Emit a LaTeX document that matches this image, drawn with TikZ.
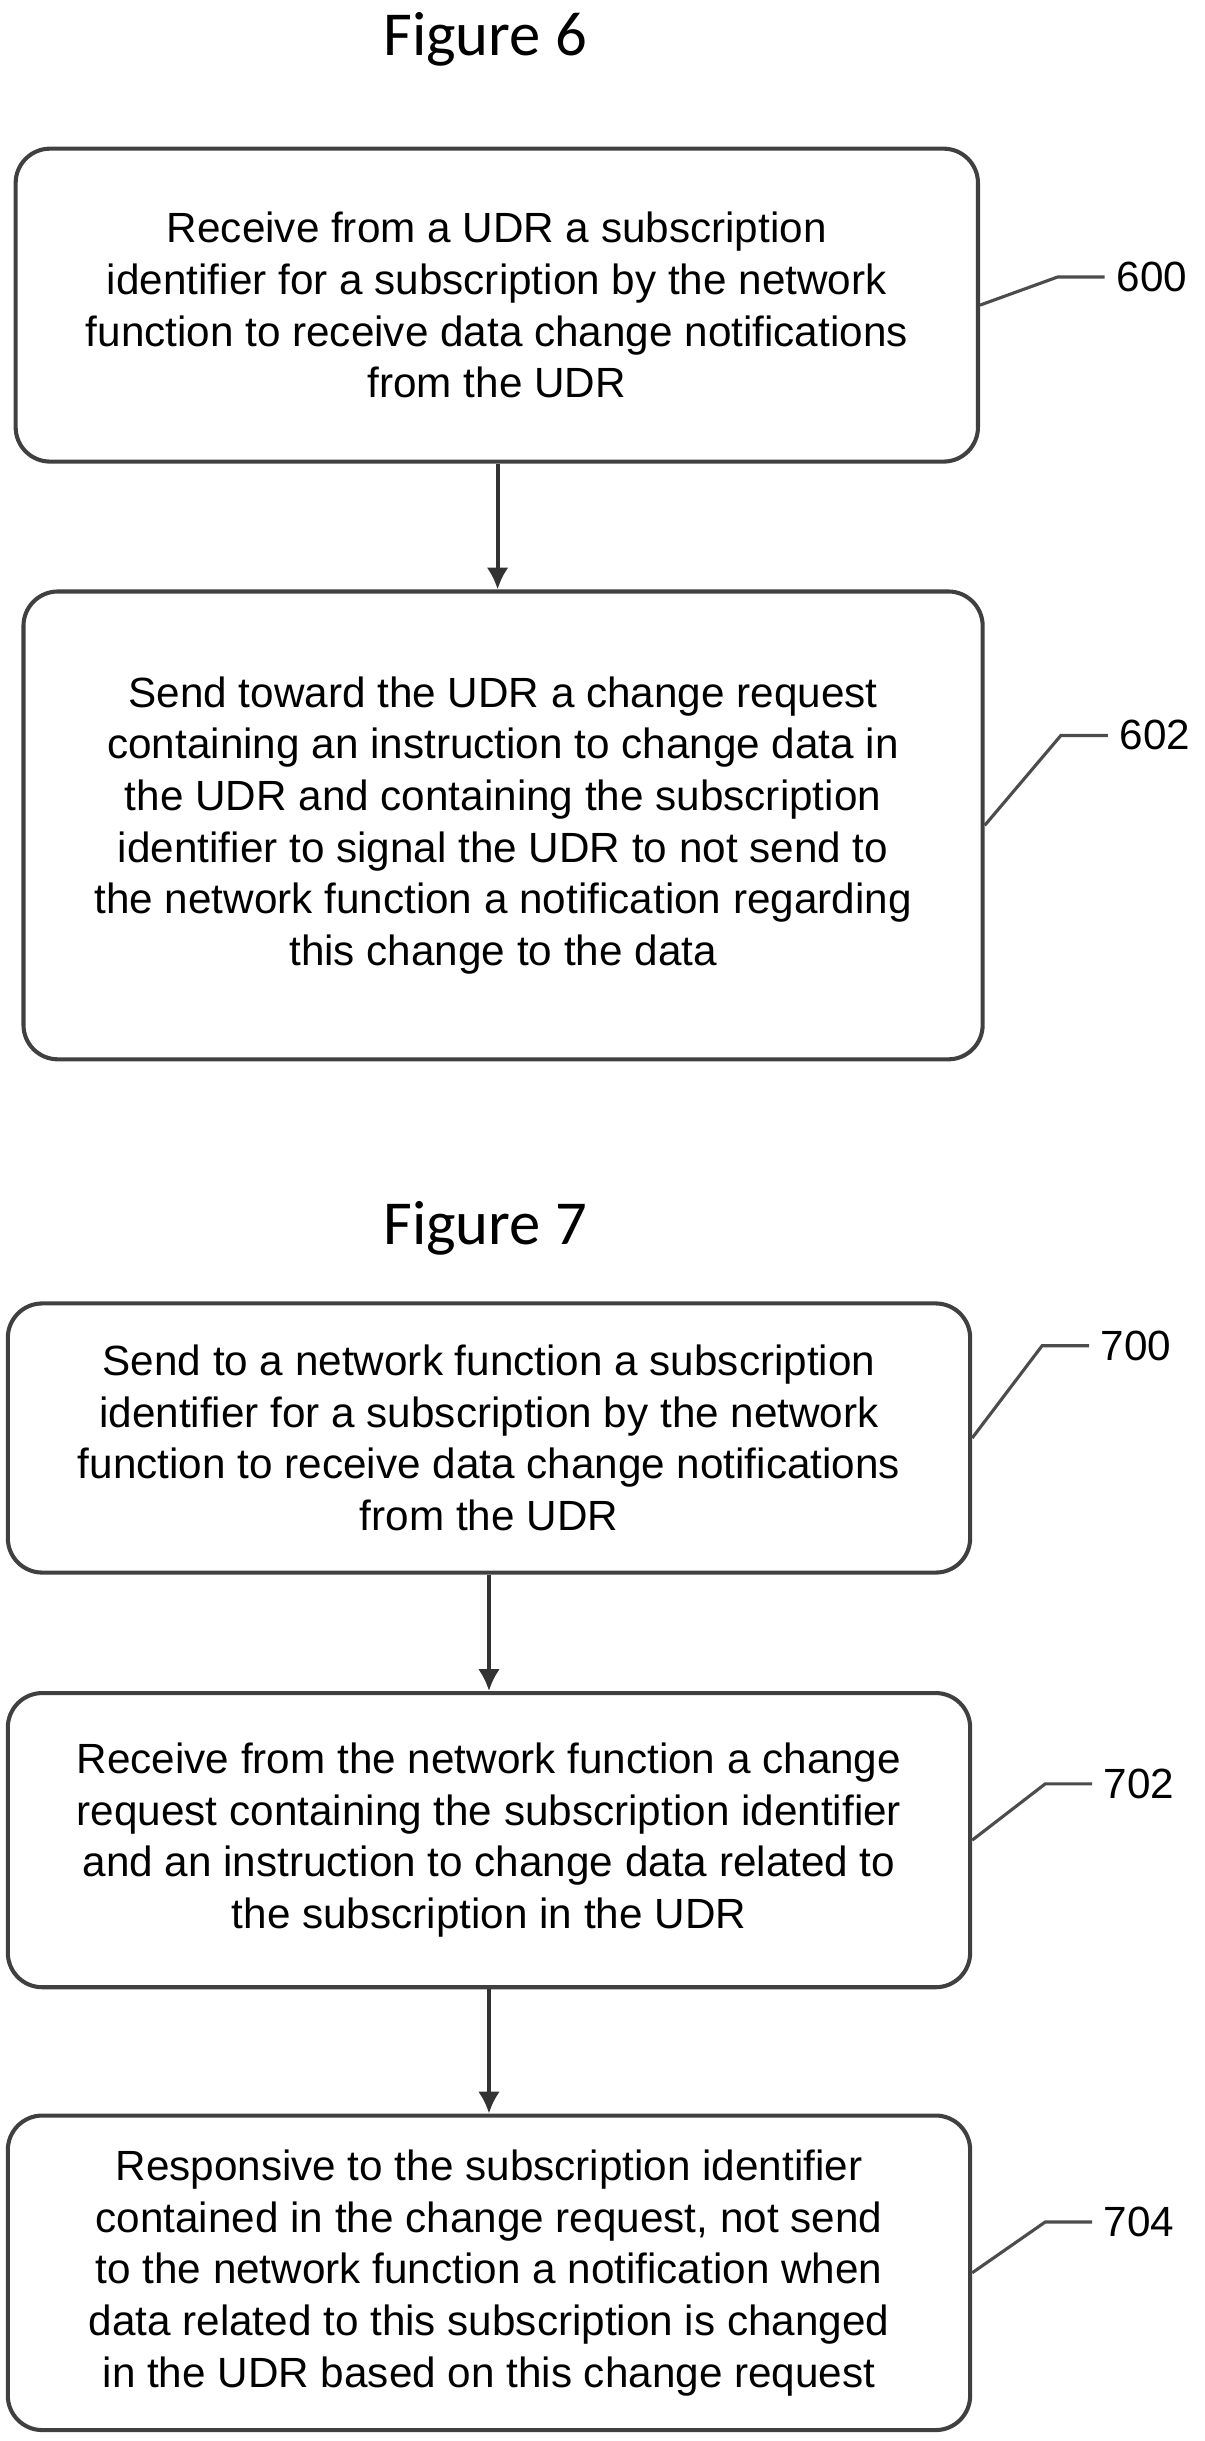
\documentclass[tikz,border=0pt]{standalone}
\usepackage{fontspec}
\setmainfont{Liberation Sans}
\newfontfamily\titlefont{Carlito}
\usetikzlibrary{positioning}
\usetikzlibrary{arrows.meta}
\tikzset{
  stepbox/.style={draw=black!75, line width=2.6pt, rounded corners=22pt, align=center,
    font=\fontsize{27}{33}\selectfont, inner sep=0pt},
  reflabel/.style={font=\fontsize{27}{33}\selectfont, anchor=west},
  figtitle/.style={font=\titlefont\fontsize{40}{48}\selectfont},
  leader/.style={draw=black!70, line width=2pt},
  flow/.style={draw=black!80, line width=2.6pt, -{Latex[length=14pt,width=14pt]}},
}
\begin{document}
\begin{tikzpicture}[x=1pt,y=1pt,yscale=-1]
\useasboundingbox (0,0) rectangle (770,1560);

\node[figtitle] (fig6) at (310,25) {Figure 6};
\node[stepbox, minimum width=615pt, minimum height=200pt] (s600) at (317.5,195)
  {Receive from a UDR a subscription\\identifier for a subscription by the network\\function to receive data change notifications\\from the UDR};
\node[stepbox, minimum width=613pt, minimum height=299pt] (s602) at (321.5,527.5)
  {Send toward the UDR a change request\\containing an instruction to change data in\\the UDR and containing the subscription\\identifier to signal the UDR to not send to\\the network function a notification regarding\\this change to the data};

\node[figtitle] (fig7) at (310,785) {Figure 7};
\node[stepbox, minimum width=615pt, minimum height=172pt] (s700) at (312.5,919)
  {Send to a network function a subscription\\identifier for a subscription by the network\\function to receive data change notifications\\from the UDR};
\node[stepbox, minimum width=615pt, minimum height=188pt] (s702) at (312.5,1176)
  {Receive from the network function a change\\request containing the subscription identifier\\and an instruction to change data related to\\the subscription in the UDR};
\node[stepbox, minimum width=615pt, minimum height=201pt] (s704) at (312.5,1452.5)
  {Responsive to the subscription identifier\\contained in the change request, not send\\to the network function a notification when\\data related to this subscription is changed\\in the UDR based on this change request};

% step numbers
\node[reflabel] (n600) at (710,177) {600};
\node[reflabel] (n602) at (712,470) {602};
\node[reflabel] (n700) at (700,860) {700};
\node[reflabel] (n702) at (702,1140) {702};
\node[reflabel] (n704) at (702,1420) {704};

\foreach \b/\n in {s600/n600,s602/n602,s700/n700,s702/n702,s704/n704}
  \draw[leader] (\b.east) -- ([xshift=-34pt]\n.west) -- ([xshift=-4pt]\n.west);

\draw[flow] (s600.south -| 318,0) -- (s602.north -| 318,0);
\draw[flow] (s700) -- (s702);
\draw[flow] (s702) -- (s704);
\end{tikzpicture}
\end{document}
